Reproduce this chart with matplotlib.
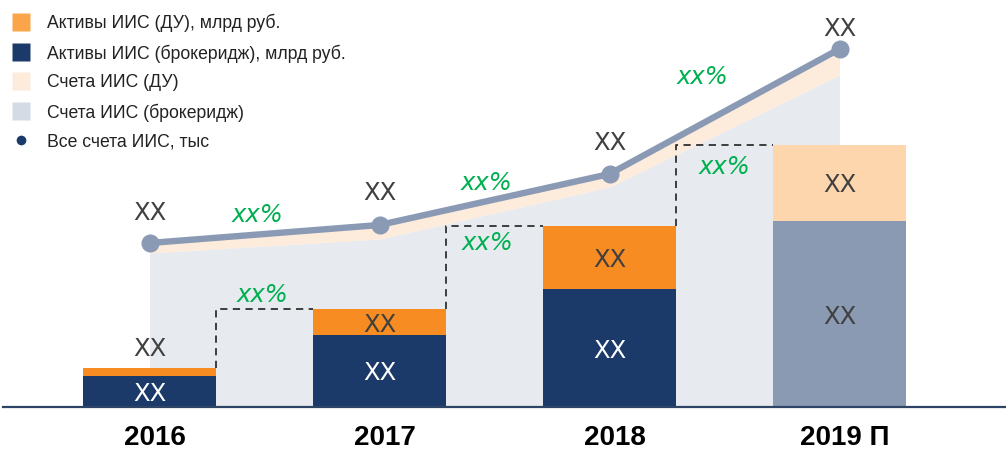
import matplotlib
matplotlib.use("Agg")
import matplotlib.pyplot as plt
from matplotlib.lines import Line2D
import numpy as np

# ---------------- data (chart units) ----------------
years = ["2016", "2017", "2018", "2019 П"]
assets_brokerage = [31, 72, 118, 186]
assets_du = [8, 26, 63, 76]
accounts_brokerage = [154, 168, 220, 332]
accounts_du = [10, 14, 13, 26]
bar_labels_low = ["XX", "XX", "XX", "XX"]
bar_labels_high = ["XX", "XX", "XX", "XX"]
line_labels = ["XX", "XX", "XX", "XX"]
growth_line_labels = ["xx%", "xx%", "xx%"]
growth_bar_labels = ["xx%", "xx%", "xx%"]
legend_labels = ["Активы ИИС (ДУ), млрд руб.",
                 "Активы ИИС (брокеридж), млрд руб.",
                 "Счета ИИС (ДУ)",
                 "Счета ИИС (брокеридж)",
                 "Все счета ИИС, тыс"]

# ---------------- colours ----------------
NAVY = "#1B3A69"
ORANGE = "#F78C22"
GRAY_BAR = "#8A9AB3"
PEACH_BAR = "#FDD6AE"
AREA_GRAY = "#E7EAEF"
AREA_PEACH = "#FDEBDB"
LINE_C = "#8A9AB5"
TXT = "#404040"
GREEN = "#00B050"

W, H = 1006, 449
fig = plt.figure(figsize=(W / 100, H / 100), dpi=100)
ax = fig.add_axes([0, 0, 1, 1])
ax.set_axis_off()

x = np.arange(len(years))
cx0, step, base_px = 149.5, 230.0, 407
ax.set_xlim(-cx0 / step, (W - cx0) / step)
ax.set_ylim(-(H - base_px), base_px)

total_acc = np.array(accounts_brokerage) + np.array(accounts_du)
total_assets = np.array(assets_brokerage) + np.array(assets_du)

# areas
ax.fill_between(x, 0, accounts_brokerage, color=AREA_GRAY, lw=0, zorder=1)
ax.fill_between(x, accounts_brokerage, total_acc, color=AREA_PEACH, lw=0, zorder=1)

# bars
bw = 133 / step
low_cols = [NAVY, NAVY, NAVY, GRAY_BAR]
high_cols = [ORANGE, ORANGE, ORANGE, PEACH_BAR]
ax.bar(x, assets_brokerage, width=bw, color=low_cols, zorder=3, lw=0)
ax.bar(x, assets_du, bottom=assets_brokerage, width=bw, color=high_cols, zorder=3, lw=0)

# baseline
ax.axhline(0, color="#2E4466", lw=1.6, zorder=4, xmin=3 / W)

# dashed step connectors
for i in range(len(x) - 1):
    xr = x[i] + bw / 2
    xl = x[i + 1] - bw / 2
    ax.plot([xr, xr, xl], [total_assets[i], total_assets[i + 1], total_assets[i + 1]],
            color="#303030", lw=1.3, ls=(0, (4, 3)), zorder=2)

# line
ax.plot(x, total_acc, color=LINE_C, lw=4.6, marker="o", ms=12, zorder=5,
        solid_capstyle="round")

lab_fs = 17.5
# bar labels
for i in range(len(x)):
    tc = "white" if i < 3 else TXT
    ax.text(x[i], assets_brokerage[i] / 2, bar_labels_low[i], color=tc,
            fontsize=lab_fs, ha="center", va="center_baseline", zorder=6)
    if i == 0:
        yy = total_assets[i] + 21
    else:
        yy = assets_brokerage[i] + assets_du[i] / 2
    ax.text(x[i], yy, bar_labels_high[i], color=TXT, fontsize=lab_fs,
            ha="center", va="center_baseline", zorder=6)

# line labels
line_off = [32, 35, 34, 23]
for i in range(len(x)):
    ax.text(x[i], total_acc[i] + line_off[i], line_labels[i], color=TXT,
            fontsize=lab_fs, ha="center", va="center_baseline", zorder=6)

# growth labels (line)
gl_pos = [(0.47, 195), (1.465, 226), (2.406, 332)]
for (gx, gy), t in zip(gl_pos, growth_line_labels):
    ax.text(gx, gy, t, color=GREEN, fontsize=lab_fs, style="italic",
            ha="center", va="center_baseline", zorder=6)
# growth labels (bars)
gb_off = [17, -14, -20]
gb_x = [0.49, 1.47, 2.50]
for i, t in enumerate(growth_bar_labels):
    ax.text(gb_x[i], total_assets[i + 1] + gb_off[i], t, color=GREEN,
            fontsize=lab_fs, style="italic", ha="center", va="center_baseline", zorder=6)

# year labels
for i, yl in enumerate(years):
    ax.text(x[i] + 5 / step, -28, yl, fontsize=20, fontweight="bold",
            family="Liberation Sans", ha="center", va="center_baseline", color="black")

# legend
handles = [
    Line2D([], [], ls="none", marker="s", ms=12.5, mfc="#FBA54A", mec="none"),
    Line2D([], [], ls="none", marker="s", ms=12.5, mfc=NAVY, mec="none"),
    Line2D([], [], ls="none", marker="s", ms=12.5, mfc="#FDEBDB", mec="none"),
    Line2D([], [], ls="none", marker="s", ms=12.5, mfc="#D5DBE4", mec="none"),
    Line2D([], [], ls="none", marker="o", ms=7, mfc=NAVY, mec="none"),
]
leg = ax.legend(handles, legend_labels, loc="upper left",
                bbox_to_anchor=(-4 / W, 1 - 0 / H), frameon=False,
                prop={"family": "Liberation Sans", "size": 12.7},
                handlelength=1.23, handletextpad=0.85, labelspacing=0.67,
                borderpad=0.3)
for t in leg.get_texts():
    t.set_color("#222222")

fig.savefig("out.png", dpi=100)
